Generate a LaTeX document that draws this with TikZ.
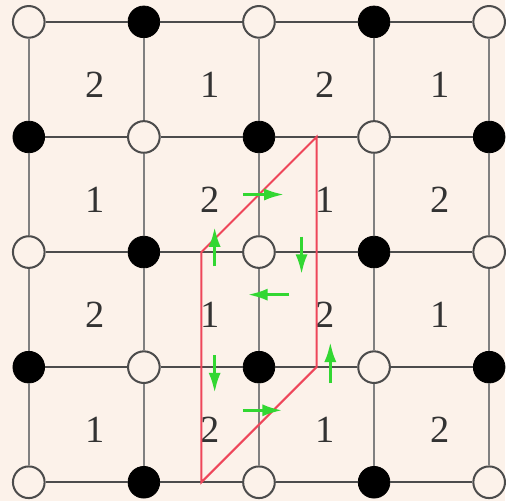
\documentclass[tikz,border=0pt]{standalone}
\usepackage{fontspec}
\setmainfont{Liberation Serif}
\usetikzlibrary{arrows.meta}
\definecolor{bgcol}{RGB}{252,242,234}
\definecolor{cellred}{RGB}{238,70,90}
\definecolor{flowgreen}{RGB}{50,215,50}
\newcommand{\vertexwidth}{0.55cm}
\tikzset{whitept/.style={circle, draw=black!70, fill=bgcol, line width=1pt, inner sep=0pt, minimum width=\vertexwidth}}
\tikzset{blackpt/.style={circle, draw=black, fill=black, inner sep=0pt, minimum width=\vertexwidth}}
\tikzset{hline/.style={draw=black!70, line width=1pt}}
\tikzset{vline/.style={draw=black!50, line width=1pt}}
\tikzset{flow/.style={flowgreen, line width=1.6pt, -{Latex[length=10pt,width=6pt]}}}
\tikzset{cellnum/.style={font=\fontsize{19}{19}\selectfont, text=black!80}}

\begin{document}
\begin{tikzpicture}

\fill[bgcol] (-0.5,-0.33) rectangle (8.28,8.38);

% vertices
\foreach \i in {0,...,4} {
  \foreach \j in {0,...,4} {
    \pgfmathtruncatemacro{\parity}{mod(\i+\j,2)}
    \ifnum\parity=1
      \node[blackpt] (v-\i-\j) at (2*\i,2*\j) {};
    \else
      \node[whitept] (v-\i-\j) at (2*\i,2*\j) {};
    \fi
  }
}

% grid
\foreach \i in {0,...,4} {
  \foreach \j in {0,...,3} {
    \pgfmathtruncatemacro{\jn}{\j+1}
    \draw[vline] (v-\i-\j) -- (v-\i-\jn);
    \draw[hline] (v-\j-\i) -- (v-\jn-\i);
  }
}

% cell labels
\foreach \i in {0,...,3} {
  \foreach \j in {0,...,3} {
    \pgfmathtruncatemacro{\lab}{mod(\i+\j,2)+1}
    \node[cellnum] (c-\i-\j) at (2*\i+1.15,2*\j+0.91) {\lab};
  }
}

% unit cell
\coordinate (p1) at (3,4);
\coordinate (p2) at (5,6);
\coordinate (p3) at (5,2);
\coordinate (p4) at (3,0);
\draw[cellred, line width=1pt] (p1) -- (p2) -- (p3) -- (p4) -- cycle;

\draw[flow] (3.72,5.0) -- ++(0.72,0);
\draw[flow] (3.23,3.75) -- ++(0,0.69);
\draw[flow] (4.74,4.27) -- ++(0,-0.66);
\draw[flow] (4.53,3.26) -- ++(-0.73,0);
\draw[flow] (3.23,2.21) -- ++(0,-0.66);
\draw[flow] (5.24,1.72) -- ++(0,0.72);
\draw[flow] (3.72,1.25) -- ++(0.69,0);

\end{tikzpicture}
\end{document}
